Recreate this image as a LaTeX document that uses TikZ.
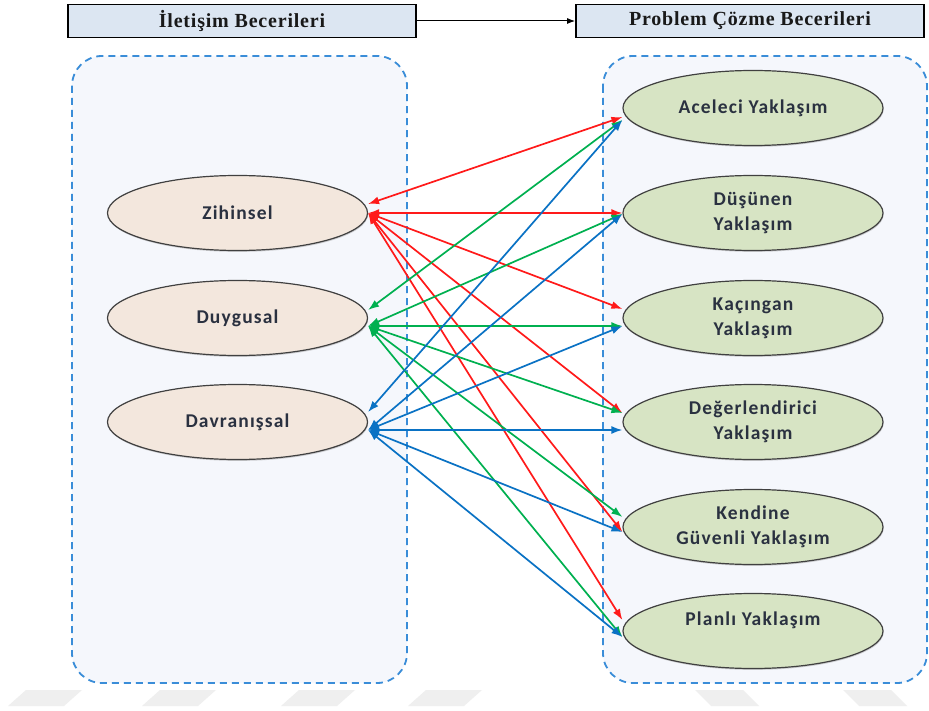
\documentclass[tikz,border=0pt]{standalone}
\usepackage{fontspec}
\newfontfamily\ovalfont[LetterSpace=6]{Carlito}
\newfontfamily\headfont[LetterSpace=4]{Liberation Serif}
\usetikzlibrary{shapes.geometric,arrows.meta,shadows}

\definecolor{groupfill}{HTML}{F5F7FC}
\definecolor{groupline}{HTML}{3A8DD8}
\definecolor{headfill}{HTML}{DCE6F2}
\definecolor{skillfill}{HTML}{F3E7DD}
\definecolor{stylefill}{HTML}{D7E4C4}
\definecolor{ovalline}{HTML}{404040}
\definecolor{ovaltext}{HTML}{2A3140}
\definecolor{linkred}{HTML}{FF1A1A}
\definecolor{linkgreen}{HTML}{00B050}
\definecolor{linkblue}{HTML}{0A72C4}
\definecolor{markgray}{HTML}{EFEFEF}

\begin{document}
\begin{tikzpicture}[x=1pt,y=-1pt,
  groupbox/.style={draw=groupline,fill=groupfill,line width=1.8pt,
    dash pattern=on 7pt off 5pt,rounded corners=30pt},
  titlebox/.style={draw=black,fill=headfill,line width=1.8pt,
    minimum width=348pt,minimum height=33pt,inner sep=0pt,
    font=\headfont\bfseries\fontsize{20}{24}\selectfont,text=black!90},
  oval/.style={ellipse,draw=ovalline,line width=1.2pt,
    minimum width=260pt,minimum height=75pt,inner sep=0pt,
    align=center,text=ovaltext,
    font=\ovalfont\bfseries\fontsize{19.5}{25}\selectfont,
    drop shadow={shadow xshift=0.6pt,shadow yshift=-1.4pt,opacity=0.35}},
  skill/.style={oval,fill=skillfill},
  approach/.style={oval,fill=stylefill},
  link/.style={line width=1.7pt,<->,>={Latex[length=11pt,width=8pt]}},
  redlink/.style={link,draw=linkred,fill=linkred},
  greenlink/.style={link,draw=linkgreen,fill=linkgreen},
  bluelink/.style={link,draw=linkblue,fill=linkblue}
]
\useasboundingbox (0,0) rectangle (929,711);
\fill[white] (0,0) rectangle (929,711);

% faint marks along the bottom edge
\fill[markgray] (8,706) -- ++(56,0) -- ++(18,-16) -- ++(-56,0) -- cycle;
\fill[markgray] (142,706) -- ++(56,0) -- ++(18,-16) -- ++(-56,0) -- cycle;
\fill[markgray] (281,706) -- ++(56,0) -- ++(18,-16) -- ++(-56,0) -- cycle;
\fill[markgray] (408,706) -- ++(56,0) -- ++(18,-16) -- ++(-56,0) -- cycle;
\fill[markgray] (711,706) -- ++(48,0) -- ++(-16,-16) -- ++(-48,0) -- cycle;
\fill[markgray] (859,706) -- ++(48,0) -- ++(-16,-16) -- ++(-48,0) -- cycle;

% dashed group frames
\draw[groupbox] (72,56) rectangle (407,683);
\draw[groupbox] (603,56) rectangle (927,683);

% headings
\node[titlebox] (iletisim) at (242,21) {İletişim Becerileri};
\node[titlebox] (problem) at (750,21) {Problem Çözme Becerileri};
\draw[line width=1pt,-{Latex[length=8pt,width=6pt]}] (iletisim) -- (problem);

% communication skills
\node[skill] (zih) at (237.5,213) {Zihinsel};
\node[skill] (duy) at (237.5,318) {Duygusal};
\node[skill] (dav) at (237.5,422) {Davranışsal};

% problem solving approaches
\node[approach] (ace) at (753,108) {Aceleci Yaklaşım};
\node[approach] (dus) at (753,213) {Düşünen\\Yaklaşım};
\node[approach] (kac) at (753,318) {Kaçıngan\\Yaklaşım};
\node[approach] (deg) at (753,422) {Değerlendirici\\Yaklaşım};
\node[approach] (ken) at (753,527) {Kendine\\Güvenli Yaklaşım};
\node[approach] (pla) at (753,631) {Planlı Yaklaşım\\\mbox{}};

% links from Zihinsel
\draw[redlink] ([yshift=9pt]zih.east) -- ([yshift=-9pt]ace.west);
\draw[redlink] (zih.east) -- (dus.west);
\draw[redlink] (zih.east) -- ([yshift=9pt]kac.west);
\draw[redlink] (zih.east) -- ([yshift=9pt]deg.west);
\draw[redlink] (zih.east) -- ([yshift=-5pt]ken.west);
\draw[redlink] (zih.east) -- ([yshift=11pt]pla.west);

% links from Duygusal
\draw[greenlink] ([yshift=8pt]duy.east) -- ([yshift=-12pt]ace.west);
\draw[greenlink] ([yshift=-8pt]duy.east) -- ([yshift=-1pt]dus.west);
\draw[greenlink] ([yshift=-8pt]duy.east) -- ([yshift=-8pt]kac.west);
\draw[greenlink] ([yshift=-8pt]duy.east) -- ([yshift=9pt]deg.west);
\draw[greenlink] ([yshift=-8pt]duy.east) -- ([yshift=10pt]ken.west);
\draw[greenlink] ([yshift=-8pt]duy.east) -- ([yshift=-6pt]pla.west);

% links from Davranışsal
\draw[bluelink] ([yshift=10pt]dav.east) -- ([yshift=-12pt]ace.west);
\draw[bluelink] ([yshift=-8pt]dav.east) -- ([yshift=-1pt]dus.west);
\draw[bluelink] ([yshift=-8pt]dav.east) -- ([yshift=-8pt]kac.west);
\draw[bluelink] ([yshift=-8pt]dav.east) -- ([yshift=-8pt]deg.west);
\draw[bluelink] ([yshift=-8pt]dav.east) -- ([yshift=-5pt]ken.west);
\draw[bluelink] ([yshift=-8pt]dav.east) -- ([yshift=-6pt]pla.west);
\end{tikzpicture}
\end{document}
